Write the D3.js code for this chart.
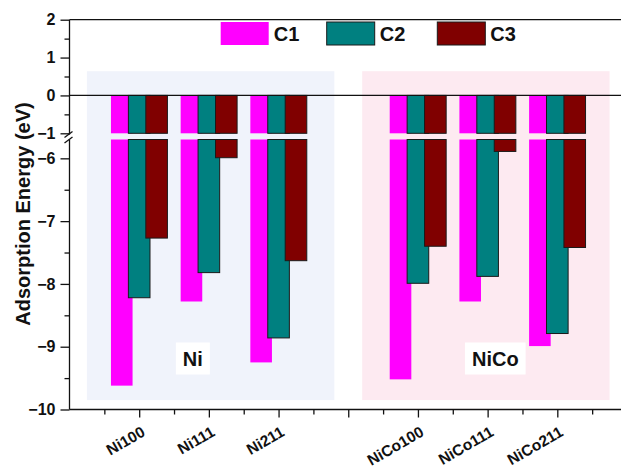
<!DOCTYPE html>
<html><head><meta charset="utf-8">
<script src="https://cdn.jsdelivr.net/npm/d3@7"></script>
<style>body{margin:0;background:#fff}svg{display:block}text{font-family:"Liberation Sans",Arial,sans-serif;font-weight:bold;fill:#111}</style>
</head><body><svg id="c" width="621" height="470"></svg>
<script>
// ---- data ----
const slots = ["Ni100","Ni111","Ni211","","NiCo100","NiCo111","NiCo211"];
const categories = ["Ni100","Ni111","Ni211","NiCo100","NiCo111","NiCo211"];
const seriesNames = ["C1","C2","C3"];
const c1 = [-9.62,-8.28,-9.25,-9.52,-8.28,-8.99];
const c2 = [-8.22,-7.82,-8.86,-7.99,-7.88,-8.79];
const c3 = [-7.27,-5.99,-7.63,-7.40,-5.89,-7.42];
const upperTicks = [-1,0,1,2];
const lowerTicks = [-10,-9,-8,-7,-6];
const groups = ["Ni","NiCo"];
const colors = ["#FF00FF","#008080","#800000"];

const svg = d3.select("#c");
const x = d3.scaleLinear().domain([0, slots.length+1]).range([69.5, 627]);
const yU = d3.scaleLinear().domain([-1,2]).range([133.3,19.7]);
const yL = d3.scaleLinear().domain([-10,-5.7]).range([409.5,139.5]);
const series = [c1,c2,c3];
const slotPos = c => slots.indexOf(c)+1;

// background panels
const panels = [
  {name:groups[0], x0:0.25, x1:3.8, color:"#F0F3FB", lab:1.77},
  {name:groups[1], x0:4.2, x1:7.75, color:"#FDEAF1", lab:6.11}
];
panels.forEach(p=>{
  svg.append("rect").attr("x",x(p.x0)).attr("width",x(p.x1)-x(p.x0))
    .attr("y",yU(0.64)).attr("height",yL(-9.85)-yU(0.64)).attr("fill",p.color);
});

// bars
const bw = 0.31, off = 0.25;
categories.forEach((c,ci)=>{
  series.forEach((s,si)=>{
    const v = s[ci];
    const cx = slotPos(c) + (si-1)*off;
    const xa = x(cx-bw/2), w = x(cx+bw/2)-x(cx-bw/2);
    const stroke = si===0 ? "none" : "#1a1a1a";
    svg.append("rect").attr("x",xa).attr("width",w)
      .attr("y",yU(0)).attr("height",yU(Math.max(v,-1))-yU(0))
      .attr("fill",colors[si]).attr("stroke",stroke).attr("stroke-width",1);
    svg.append("rect").attr("x",xa).attr("width",w)
      .attr("y",yL(-5.7)).attr("height",yL(v)-yL(-5.7))
      .attr("fill",colors[si]).attr("stroke",stroke).attr("stroke-width",1);
  });
});

// group labels with white boxes
panels.forEach(p=>{
  const t = svg.append("text").attr("x",x(p.lab)).attr("y",365.5)
    .attr("text-anchor","middle").attr("font-size",20).text(p.name);
  const b = t.node().getBBox();
  svg.insert("rect",()=>t.node()).attr("x",b.x-7).attr("y",342.5).attr("width",b.width+14).attr("height",32).attr("fill","#fff");
});

// horizontal lines: top frame, zero line, bottom axis
[yU(2), yU(0), yL(-10)].forEach(yy=>{
  svg.append("line").attr("x1",x(0)).attr("x2",x(slots.length+1)).attr("y1",yy).attr("y2",yy)
    .attr("stroke","#111").attr("stroke-width",1.3);
});

// y axes (broken)
const gU = svg.append("g").attr("transform",`translate(${x(0)},0)`)
  .call(d3.axisLeft(yU).tickValues(upperTicks).tickSize(9).tickPadding(5).tickFormat(d3.format("d")));
gU.select(".domain").attr("d",`M0,${yU(2)}V134.5`);
const gUm = svg.append("g").attr("transform",`translate(${x(0)},0)`)
  .call(d3.axisLeft(yU).tickValues([-0.5,0.5,1.5]).tickSize(5).tickFormat(""));
gUm.select(".domain").remove();
const gL = svg.append("g").attr("transform",`translate(${x(0)},0)`)
  .call(d3.axisLeft(yL).tickValues(lowerTicks).tickSize(9).tickPadding(5).tickFormat(d3.format("d")));
gL.select(".domain").attr("d",`M0,139.5V${yL(-10)}`);
const gLm = svg.append("g").attr("transform",`translate(${x(0)},0)`)
  .call(d3.axisLeft(yL).tickValues([-9.5,-8.5,-7.5,-6.5]).tickSize(5).tickFormat(""));
gLm.select(".domain").remove();
[gU,gL].forEach(g=>g.selectAll("text").attr("font-size",16).attr("font-family","Liberation Sans, Arial").attr("font-weight","bold").attr("fill","#111"));
svg.selectAll(".tick line, .domain").attr("stroke","#111").attr("stroke-width",1.3);
// break marks
[134.5,140].forEach(yy=>{
  svg.append("line").attr("x1",x(0)-5).attr("x2",x(0)+3).attr("y1",yy+3).attr("y2",yy-3)
    .attr("stroke","#111").attr("stroke-width",1.3);
});

// x axis
const gX = svg.append("g").attr("transform",`translate(0,${yL(-10)})`)
  .call(d3.axisBottom(x).tickValues(d3.range(1,slots.length+2)).tickSize(8).tickFormat(""));
gX.select(".domain").remove();
const gXm = svg.append("g").attr("transform",`translate(0,${yL(-10)})`)
  .call(d3.axisBottom(x).tickValues(d3.range(0.5,slots.length+1.5,1)).tickSize(5).tickFormat(""));
gXm.select(".domain").remove();
svg.selectAll(".tick line").attr("stroke","#111").attr("stroke-width",1.3);
categories.forEach(c=>{
  svg.append("text").attr("transform",`translate(${x(slotPos(c))+7},435) rotate(-30)`)
    .attr("text-anchor","end").attr("font-size",15.5).text(c);
});

// legend
const legX = [220.7, 326.7, 437.3];
seriesNames.forEach((n,i)=>{
  svg.append("rect").attr("x",legX[i]).attr("y",22).attr("width",48).attr("height",23)
    .attr("fill",colors[i]).attr("stroke",i===0?"none":"#1a1a1a").attr("stroke-width",1);
  svg.append("text").attr("x",legX[i]+53).attr("y",41).attr("font-size",20).text(n);
});

// y label
svg.append("text").attr("transform","translate(30,214) rotate(-90)").attr("text-anchor","middle")
  .attr("font-size",20).text("Adsorption Energy (eV)");
</script></body></html>
